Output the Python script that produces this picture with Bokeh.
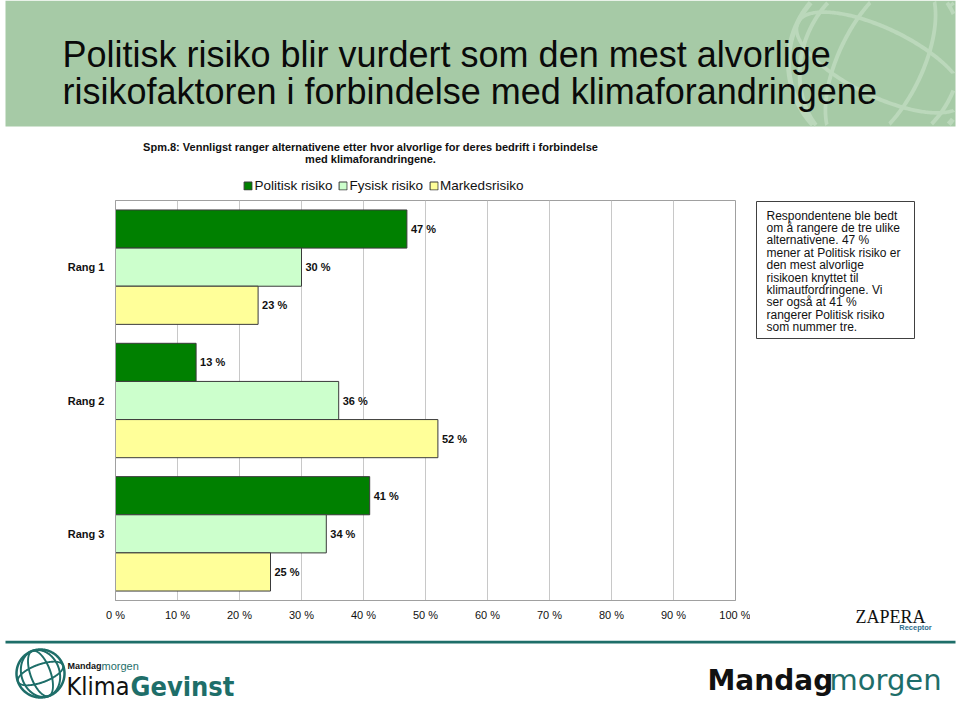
import numpy as np
from bokeh.plotting import figure
from bokeh.layouts import column, row
from bokeh.models import (ColumnDataSource, FactorRange, Range1d, PrintfTickFormatter,
                          FixedTicker, Spacer, LinearAxis)
from bokeh.transform import dodge
from bokeh.core.properties import value
from bokeh.embed import file_html
from bokeh.resources import INLINE

# ---------------- data ----------------
categories = ["Rang 1", "Rang 2", "Rang 3"]
series = ["Politisk risiko", "Fysisk risiko", "Markedsrisiko"]
politisk = [47, 13, 41]
fysisk = [30, 36, 34]
markeds = [23, 52, 25]
x_ticks = [0, 10, 20, 30, 40, 50, 60, 70, 80, 90, 100]

title_lines = ["Politisk risiko blir vurdert som den mest alvorlige",
               "risikofaktoren i forbindelse med klimaforandringene"]
subtitle_lines = ["Spm.8: Vennligst ranger alternativene etter hvor alvorlige for deres bedrift i forbindelse",
                  "med klimaforandringene."]
note_lines = ["Respondentene ble bedt", "om å rangere de tre ulike", "alternativene. 47 %",
              "mener at Politisk risiko er", "den mest alvorlige", "risikoen knyttet til",
              "klimautfordringene. Vi", "ser også at 41 %", "rangerer Politisk risiko",
              "som nummer tre."]

# ---------------- styles ----------------
FONT = "Liberation Sans"
COND = "DejaVu Sans Condensed"
colors = ["#008000", "#CCFFCC", "#FFFF99"]
offsets = [0.286, 0.0, -0.286]
HEADER = "#A6CAA6"
WATERMARK = "#BBD8BB"
TEAL = "#1E6E69"
W = 958


def deco_fig(width, height, x0, y0, top=0, bottom=0):
    """Figure in page pixel coordinates (y down)."""
    f = figure(width=width, height=height, x_range=Range1d(x0, x0 + width),
               y_range=Range1d(y0 + height - bottom, y0 + top), output_backend="svg",
               toolbar_location=None, min_border=0, min_border_left=0, min_border_right=0,
               min_border_top=top, min_border_bottom=bottom)
    f.axis.visible = False
    f.grid.visible = False
    f.outline_line_color = None
    f.background_fill_color = "white"
    f.border_fill_color = "white"
    return f


def band(f, cx, cy, rx, ry, rot, w, clip, color, n=360):
    ts = np.linspace(0, 2 * np.pi, n)
    c, s = np.cos(rot), np.sin(rot)

    def pts(a, b):
        x = a * np.cos(ts)
        y = b * np.sin(ts)
        return cx + x * c - y * s, cy + x * s + y * c
    ox, oy = pts(rx + w / 2, ry + w / 2)
    ix, iy = pts(max(rx - w / 2, 0.5), max(ry - w / 2, 0.5))
    x0, x1, y0, y1 = clip
    ok = ((ox >= x0) & (ox <= x1) & (oy >= y0) & (oy <= y1) &
          (ix >= x0) & (ix <= x1) & (iy >= y0) & (iy <= y1))
    if ok.all():
        runs = [list(range(n))]
    else:
        start = int(np.argmin(ok))
        order = list(range(start, n)) + list(range(0, start))
        runs, cur = [], []
        for i in order:
            if ok[i]:
                cur.append(i)
            elif cur:
                runs.append(cur)
                cur = []
        if cur:
            runs.append(cur)
    xs, ys = [], []
    for r in runs:
        if len(r) < 3:
            continue
        xs.append(list(ox[r]) + list(ix[r][::-1]))
        ys.append(list(oy[r]) + list(iy[r][::-1]))
    if xs:
        f.patches(xs=xs, ys=ys, fill_color=color, line_color=None)


def txt(f, x, y, t, size, color="#111111", style="normal", align="left", font=FONT):
    f.text(x=[x], y=[y], text=[t], text_font=value(font), text_font_size=size,
           text_font_style=style, text_color=color, text_align=align, text_baseline="middle")


# ---------------- header ----------------
head = deco_fig(W, 172, 0, 0)
head.quad(left=[5], right=[955], top=[0], bottom=[126], fill_color=HEADER, line_color=None)
hclip = (5, 955, 0, 126)
band(head, 880, 62, 92, 92, 0.0, 5, hclip, WATERMARK)
band(head, 880, 62, 42, 92, 0.45, 4, hclip, WATERMARK)
band(head, 880, 62, 78, 92, 0.45, 4, hclip, WATERMARK)
band(head, 880, 62, 92, 34, 0.45, 4, hclip, WATERMARK)
for i, t in enumerate(title_lines):
    txt(head, 62, 54 + 36.5 * i, t, "36px", color="#0A0A0A")
for i, t in enumerate(subtitle_lines):
    txt(head, 370, 146 + 12.5 * i, t, "11px", style="bold", align="center")

# ---------------- legend strip ----------------
legfig = figure(width=300, height=26, x_range=Range1d(0, 1), y_range=Range1d(0, 1),
                output_backend="svg", toolbar_location=None,
                min_border=0, min_border_left=0, min_border_right=0,
                min_border_top=0, min_border_bottom=0)
legfig.axis.visible = False
legfig.grid.visible = False
legfig.outline_line_color = None
for name, col in zip(series, colors):
    r = legfig.hbar(y=[0.5], left=[0], right=[1], height=1, fill_color=col,
                    line_color="#3A3A3A", legend_label=name)
    r.visible = False   # only the legend swatch is wanted here
lg = legfig.legend[0]
lg.location = "center"
lg.orientation = "horizontal"
lg.click_policy = "none"
lg.inactive_fill_alpha = 0
lg.glyph_width = 10
lg.glyph_height = 10
lg.label_standoff = 2
lg.spacing = 5
lg.padding = 0
lg.margin = 0
lg.label_height = 14
lg.label_text_font = FONT
lg.label_text_font_size = "13.5px"
lg.label_text_color = "#111111"
lg.border_line_color = None
lg.background_fill_alpha = 0

# ---------------- chart ----------------
p = figure(width=750, height=442, x_range=Range1d(0, 100),
           y_range=FactorRange(factors=categories[::-1], range_padding=0),
           output_backend="svg", toolbar_location=None,
           min_border_left=115, min_border_right=15, min_border_top=2, min_border_bottom=40)
p.background_fill_color = "white"
p.border_fill_color = "white"
p.outline_line_color = "#A0A0A0"

source = ColumnDataSource(dict(cat=categories, politisk=politisk, fysisk=fysisk, markeds=markeds,
                               politisk_lbl=[f"{v} %" for v in politisk],
                               fysisk_lbl=[f"{v} %" for v in fysisk],
                               markeds_lbl=[f"{v} %" for v in markeds]))

keys = ["politisk", "fysisk", "markeds"]
for key, col, off in zip(keys, colors, offsets):
    p.hbar(y=dodge("cat", off, range=p.y_range), left=0, right=key, height=0.286,
           source=source, fill_color=col, line_color="#3A3A3A", line_width=1)
    p.text(x=key, y=dodge("cat", off, range=p.y_range), text=key + "_lbl", source=source,
           x_offset=4, text_baseline="middle", text_align="left",
           text_font=value(FONT), text_font_style="bold", text_font_size="11px",
           text_color="#111111")

p.xaxis.ticker = FixedTicker(ticks=x_ticks)
p.xaxis.formatter = PrintfTickFormatter(format="%d %%")
p.xaxis.axis_line_color = "#A0A0A0"
p.xaxis.major_tick_out = 0
p.xaxis.major_tick_in = 0
p.xaxis.minor_tick_out = 0
p.xaxis.minor_tick_in = 0
p.xaxis.major_label_text_font = FONT
p.xaxis.major_label_text_font_size = "11px"
p.xaxis.major_label_text_color = "#111111"
p.xaxis.major_label_standoff = 8

p.yaxis.axis_line_color = "#A0A0A0"
p.yaxis.major_tick_out = 0
p.yaxis.major_tick_in = 0
p.yaxis.major_label_text_font = FONT
p.yaxis.major_label_text_font_size = "11px"
p.yaxis.major_label_text_font_style = "bold"
p.yaxis.major_label_text_color = "#111111"
p.yaxis.major_label_standoff = 11

p.xgrid.grid_line_color = "#C8C8C8"
p.ygrid.grid_line_color = None

# ---------------- note panel (right of chart, same frame as the chart) ----------------
note = deco_fig(W - 750, 442, 750, 198, top=2, bottom=40)
note.quad(left=[756], right=[914], top=[201], bottom=[338], fill_color="white",
          line_color="#404040", line_width=1)
for i, t in enumerate(note_lines):
    txt(note, 766, 215 + 12.4 * i, t, "12px")


def logo_axis(f, xpos, text, font, size, color, style, standoff):
    ax = LinearAxis(ticker=FixedTicker(ticks=[xpos]), major_label_overrides={xpos: text},
                    axis_line_color=None, major_tick_line_color=None, minor_tick_line_color=None,
                    major_tick_out=0, major_tick_in=0, minor_tick_out=0, minor_tick_in=0,
                    major_label_standoff=standoff, major_label_text_font=font,
                    major_label_text_font_size=size, major_label_text_color=color,
                    major_label_text_font_style=style)
    f.add_layout(ax, "below")


logo_axis(note, 890, "ZAPERA", "Liberation Serif", "18px", "#111111", "normal", 6)
logo_axis(note, 915, "Receptor", FONT, "7.5px", "#2E6E8E", "bold", -7)

# ---------------- footer ----------------
foot = deco_fig(W, 62, 0, 640)
foot.quad(left=[5], right=[955], top=[640], bottom=[643], fill_color=TEAL, line_color=None)
lclip = (0, 66, 640, 702)
band(foot, 40, 673, 24, 24, 0.0, 2.5, lclip, TEAL)
band(foot, 40, 673, 10, 24, -0.35, 2, lclip, TEAL)
band(foot, 40, 673, 19, 24, -0.35, 2, lclip, TEAL)
band(foot, 40, 673, 24, 9, -0.35, 2, lclip, TEAL)
txt(foot, 67, 665, "Mandag", "9px", style="bold")
txt(foot, 101, 665, "morgen", "11px", color=TEAL)
txt(foot, 66, 686, "Klima", "25px", font=COND)
txt(foot, 130, 686, "Gevinst", "27px", color=TEAL, style="bold", font=COND)
txt(foot, 707, 680, "Mandag", "28px", style="bold", font="DejaVu Sans")
txt(foot, 829, 679, "morgen", "29px", color=TEAL, font="DejaVu Sans")

layout = column(
    head,
    row(Spacer(width=233, height=26), legfig, Spacer(width=W - 233 - 300, height=26)),
    row(p, note),
    foot,
)

open("out.html", "w").write(file_html(layout, INLINE))
